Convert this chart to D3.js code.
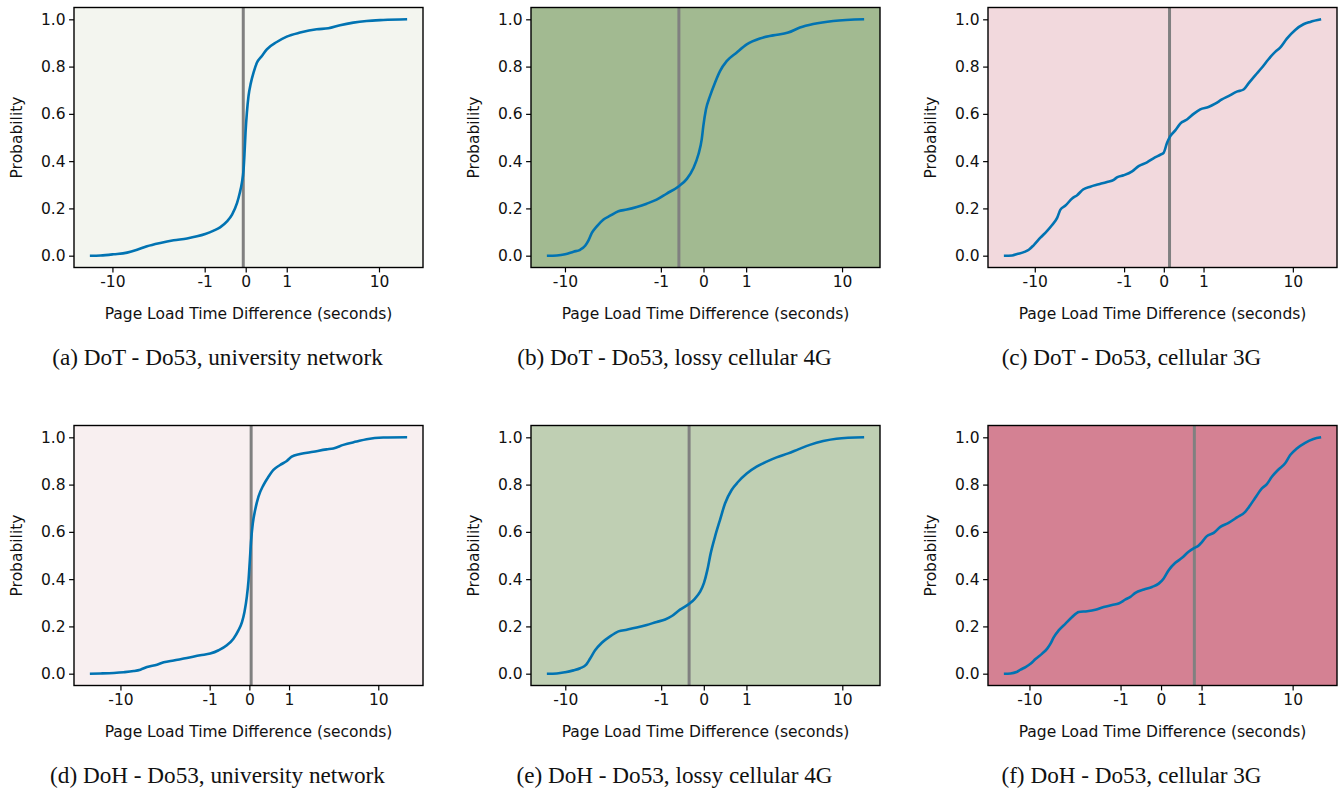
<!DOCTYPE html>
<html>
<head>
<meta charset="utf-8">
<script src="https://cdn.jsdelivr.net/npm/d3@7"></script>
<style>
  body { margin: 0; background: #fff; }
</style>
</head>
<body>
<svg id="fig" width="1341" height="789"></svg>
<script>
// CDF of page load time difference, one panel per protocol / network
const captions = [
  "(a) DoT - Do53, university network",
  "(b) DoT - Do53, lossy cellular 4G",
  "(c) DoT - Do53, cellular 3G",
  "(d) DoH - Do53, university network",
  "(e) DoH - Do53, lossy cellular 4G",
  "(f) DoH - Do53, cellular 3G"
];
const bgColors = ["#f3f5ef", "#a2ba91", "#f2d9dd", "#f8eff0", "#bfcfb3", "#d48193"];
const vlines = [-0.04, -0.48, 0.10, 0.03, -0.26, 0.76];
const xTicks = [-10, -1, 0, 1, 10];
const yTicks = [0, 0.2, 0.4, 0.6, 0.8, 1.0];

const aX = [-15.9, -12.8, -9.71, -7.33, -5.90, -4.73, -3.47, -2.50, -1.74, -1.29, -0.98, -0.71, -0.53, -0.36, -0.25, -0.15, -0.10, -0.064, -0.035, -0.019, -0.003, 0.019, 0.046, 0.086, 0.135, 0.199, 0.303, 0.417, 0.68, 1.00, 1.54, 2.43, 3.25, 4.28, 5.77, 7.70, 10.93, 17.8];
const aP = [0, 0.001, 0.006, 0.013, 0.025, 0.040, 0.054, 0.065, 0.073, 0.082, 0.092, 0.106, 0.120, 0.145, 0.174, 0.223, 0.266, 0.308, 0.364, 0.435, 0.520, 0.605, 0.675, 0.730, 0.774, 0.816, 0.845, 0.873, 0.904, 0.927, 0.944, 0.958, 0.962, 0.975, 0.986, 0.993, 0.997, 1.0];

const bX = [-14.32, -11.75, -9.96, -8.41, -7.34, -6.62, -6.17, -5.75, -5.17, -4.47, -3.86, -3.19, -2.61, -2.03, -1.55, -1.15, -0.81, -0.48, -0.30, -0.17, -0.083, -0.028, -0.003, 0.039, 0.106, 0.197, 0.297, 0.445, 0.70, 1.02, 1.53, 2.19, 3.16, 4.13, 5.51, 8.36, 15.48];
const bP = [0, 0.001, 0.006, 0.017, 0.025, 0.042, 0.065, 0.096, 0.124, 0.153, 0.169, 0.188, 0.195, 0.206, 0.220, 0.237, 0.263, 0.294, 0.325, 0.371, 0.428, 0.492, 0.548, 0.619, 0.675, 0.732, 0.781, 0.823, 0.859, 0.894, 0.919, 0.932, 0.944, 0.965, 0.980, 0.993, 1.0];

const cX = [-19.21, -16.16, -14.56, -12.47, -11.37, -10.21, -8.85, -7.64, -6.84, -6.11, -5.67, -5.05, -4.32, -3.83, -3.31, -2.75, -2.20, -1.74, -1.42, -1.28, -1.02, -0.73, -0.54, -0.33, -0.19, -0.060, -0.003, 0.054, 0.115, 0.213, 0.322, 0.486, 0.672, 0.885, 1.19, 1.48, 1.81, 2.18, 2.72, 3.23, 3.65, 4.29, 5.01, 5.84, 6.79, 7.58, 8.78, 10.52, 12.55, 14.45, 18.19];
const cP = [0, 0.001, 0.007, 0.016, 0.025, 0.045, 0.076, 0.105, 0.130, 0.160, 0.195, 0.212, 0.242, 0.256, 0.280, 0.292, 0.302, 0.312, 0.321, 0.331, 0.340, 0.357, 0.379, 0.395, 0.412, 0.427, 0.435, 0.477, 0.506, 0.530, 0.559, 0.576, 0.600, 0.619, 0.629, 0.643, 0.661, 0.675, 0.694, 0.703, 0.729, 0.763, 0.795, 0.831, 0.862, 0.880, 0.918, 0.955, 0.979, 0.989, 1.0];

const dX = [-19.09, -15.28, -11.53, -9.31, -7.48, -6.45, -5.55, -4.40, -3.74, -2.92, -2.05, -1.38, -0.98, -0.70, -0.47, -0.31, -0.20, -0.13, -0.085, -0.043, -0.014, 0.008, 0.030, 0.059, 0.101, 0.165, 0.269, 0.384, 0.511, 0.70, 0.92, 1.10, 1.45, 2.14, 3.04, 3.59, 4.57, 6.20, 7.75, 11.12, 18.42];
const dP = [0, 0.001, 0.003, 0.006, 0.011, 0.017, 0.028, 0.038, 0.048, 0.056, 0.066, 0.078, 0.085, 0.099, 0.120, 0.148, 0.184, 0.219, 0.261, 0.325, 0.395, 0.480, 0.565, 0.636, 0.692, 0.749, 0.798, 0.833, 0.862, 0.883, 0.900, 0.918, 0.929, 0.939, 0.949, 0.953, 0.968, 0.982, 0.992, 0.999, 1.0];

const eX = [-14.41, -11.84, -10.02, -8.47, -7.39, -6.52, -6.00, -5.40, -4.67, -3.89, -3.21, -2.63, -2.05, -1.56, -1.16, -0.87, -0.67, -0.46, -0.25, -0.147, -0.061, 0.003, 0.056, 0.112, 0.191, 0.290, 0.40, 0.56, 0.74, 1.01, 1.38, 1.83, 2.37, 3.14, 3.95, 5.10, 6.77, 8.89, 15.40];
const eP = [0, 0.001, 0.006, 0.014, 0.023, 0.038, 0.064, 0.099, 0.131, 0.158, 0.179, 0.186, 0.195, 0.206, 0.219, 0.229, 0.244, 0.271, 0.297, 0.318, 0.346, 0.384, 0.438, 0.508, 0.579, 0.650, 0.720, 0.777, 0.812, 0.847, 0.876, 0.897, 0.915, 0.932, 0.949, 0.968, 0.984, 0.994, 1.0];

const fX = [-17.02, -14.84, -13.11, -12.06, -10.86, -9.78, -8.79, -7.62, -6.83, -6.35, -5.90, -5.27, -4.53, -3.88, -3.31, -2.68, -2.16, -1.71, -1.33, -1.07, -0.83, -0.68, -0.54, -0.33, -0.16, -0.039, 0.044, 0.133, 0.267, 0.42, 0.59, 0.76, 0.90, 1.02, 1.20, 1.49, 1.81, 2.27, 2.82, 3.46, 3.90, 4.39, 5.11, 5.72, 6.39, 7.39, 8.53, 9.50, 10.93, 13.00, 15.43, 18.06];
const fP = [0, 0.001, 0.007, 0.017, 0.028, 0.042, 0.062, 0.085, 0.106, 0.127, 0.155, 0.184, 0.212, 0.240, 0.261, 0.264, 0.270, 0.282, 0.291, 0.297, 0.314, 0.325, 0.342, 0.356, 0.367, 0.381, 0.403, 0.438, 0.469, 0.490, 0.516, 0.532, 0.542, 0.558, 0.582, 0.596, 0.621, 0.638, 0.661, 0.685, 0.713, 0.744, 0.784, 0.802, 0.833, 0.864, 0.890, 0.925, 0.953, 0.977, 0.993, 1.0];

const seriesX = [aX, bX, cX, dX, eX, fX];
const seriesP = [aP, bP, cP, dP, eP, fP];

const colLeft = [74, 531, 988];
const rowTop = [7.5, 425.5];
const pw = 349, ph = 260;
const symC = 0.83;
const tickFont = "DejaVu Sans, Verdana, sans-serif";
const fs = 15.5;

const svg = d3.select("#fig");

// symlog helpers (same transform as d3.scaleSymlog)
const fwd = x => Math.sign(x) * Math.log1p(Math.abs(x) / symC);
const inv = u => Math.sign(u) * symC * Math.expm1(Math.abs(u));

for (let i = 0; i < 6; i++) {
    const left = colLeft[i % 3];
    const top = rowTop[Math.floor(i / 3)];
    const xs = seriesX[i], ps = seriesP[i];

    // 5% margins in transformed space, like matplotlib
    const u0 = fwd(d3.min(xs)), u1 = fwd(d3.max(xs));
    const pad = (u1 - u0) * 0.05;
    const x = d3.scaleSymlog().constant(symC)
        .domain([inv(u0 - pad), inv(u1 + pad)])
        .range([left, left + pw]);
    const y = d3.scaleLinear().domain([-0.05, 1.05]).range([top + ph, top]);

    const g = svg.append("g");

    g.append("rect")
        .attr("x", left).attr("y", top)
        .attr("width", pw).attr("height", ph)
        .attr("fill", bgColors[i]);

    g.append("line")
        .attr("x1", x(vlines[i])).attr("x2", x(vlines[i]))
        .attr("y1", top).attr("y2", top + ph)
        .attr("stroke", "#808080")
        .attr("stroke-width", 3);

    const pts = xs.map((v, j) => [v, ps[j]]);
    g.append("path")
        .datum(pts)
        .attr("fill", "none")
        .attr("stroke", "#0173b2")
        .attr("stroke-width", 2.6)
        .attr("stroke-linejoin", "round")
        .attr("d", d3.line()
            .x(d => x(d[0]))
            .y(d => y(d[1]))
            .curve(d3.curveMonotoneX));

    g.append("rect")
        .attr("x", left).attr("y", top)
        .attr("width", pw).attr("height", ph)
        .attr("fill", "none")
        .attr("stroke", "#000")
        .attr("stroke-width", 1.4);

    const xAxis = g.append("g")
        .attr("transform", `translate(0,${top + ph})`)
        .call(d3.axisBottom(x).tickValues(xTicks)
            .tickSize(4.9).tickPadding(3.5)
            .tickFormat(d => String(d)));
    const yAxis = g.append("g")
        .attr("transform", `translate(${left},0)`)
        .call(d3.axisLeft(y).tickValues(yTicks)
            .tickSize(4.9).tickPadding(3.5)
            .tickFormat(d3.format(".1f")));

    [xAxis, yAxis].forEach(a => {
        a.select(".domain").remove();
        a.attr("font-family", tickFont).attr("font-size", fs);
        a.selectAll("line").attr("stroke", "#000").attr("stroke-width", 1.2);
        a.selectAll("text").attr("fill", "#111");
    });

    g.append("text")
        .attr("x", left + pw / 2)
        .attr("y", top + ph + 51)
        .attr("text-anchor", "middle")
        .attr("font-family", tickFont)
        .attr("font-size", fs)
        .attr("fill", "#111")
        .text("Page Load Time Difference (seconds)");

    g.append("text")
        .attr("transform", `translate(${left - 57.5},${top + ph / 2}) rotate(-90)`)
        .attr("text-anchor", "middle")
        .attr("dy", "0.35em")
        .attr("font-family", tickFont)
        .attr("font-size", fs)
        .attr("fill", "#111")
        .text("Probability");

    g.append("text")
        .attr("x", left + pw / 2 - 31)
        .attr("y", top + ph + 97.5)
        .attr("text-anchor", "middle")
        .attr("font-family", "Liberation Serif, Times New Roman, serif")
        .attr("font-size", 23.2)
        .attr("fill", "#111")
        .text(captions[i]);
}
</script>
</body>
</html>
